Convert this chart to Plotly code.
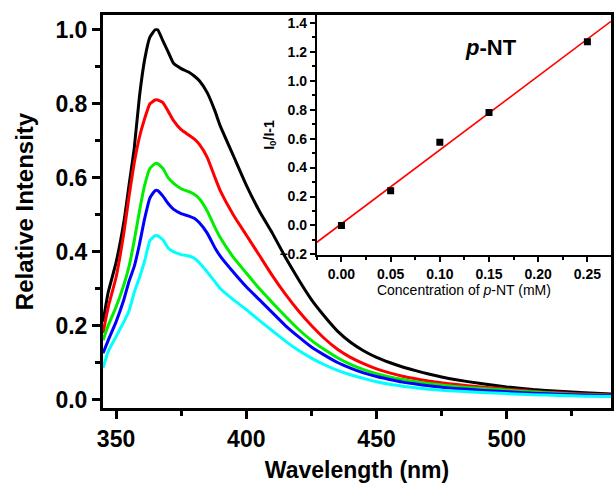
import numpy as np
import plotly.graph_objects as go

# Emission spectra (normalised), one list per quencher concentration
wavelength = [345, 347, 350, 353, 355, 357, 359, 361, 363, 365, 366, 368, 370, 372,
              375, 378, 380, 382, 385, 388, 390, 395, 400, 405, 410, 415, 420, 425,
              430, 435, 440, 445, 450, 455, 460, 465, 470, 475, 480, 490, 500, 510,
              520, 530, 540]

int_black = [0.21, 0.29, 0.37, 0.48, 0.58, 0.68, 0.82, 0.92, 0.98, 1.00, 1.00, 0.97, 0.94, 0.91,
             0.895, 0.885, 0.875, 0.862, 0.83, 0.78, 0.74, 0.66, 0.58, 0.51, 0.45, 0.385, 0.325, 0.27,
             0.225, 0.185, 0.155, 0.132, 0.114, 0.10, 0.088, 0.078, 0.069, 0.061, 0.054, 0.043, 0.034, 0.027,
             0.022, 0.018, 0.015]
int_red = [0.18, 0.25, 0.33, 0.45, 0.55, 0.64, 0.71, 0.76, 0.80, 0.81, 0.81, 0.803, 0.78, 0.755,
           0.73, 0.715, 0.705, 0.69, 0.655, 0.60, 0.565, 0.50, 0.445, 0.39, 0.335, 0.285, 0.24, 0.20,
           0.165, 0.136, 0.114, 0.097, 0.083, 0.072, 0.063, 0.056, 0.05, 0.045, 0.041, 0.034, 0.028, 0.022,
           0.018, 0.015, 0.012]
int_green = [0.16, 0.20, 0.25, 0.31, 0.36, 0.43, 0.51, 0.58, 0.625, 0.638, 0.638, 0.625, 0.60, 0.585,
             0.57, 0.562, 0.555, 0.543, 0.51, 0.465, 0.438, 0.385, 0.342, 0.30, 0.262, 0.225, 0.19, 0.16,
             0.135, 0.113, 0.095, 0.081, 0.07, 0.061, 0.054, 0.048, 0.043, 0.039, 0.035, 0.03, 0.025, 0.02,
             0.016, 0.013, 0.011]
int_blue = [0.125, 0.16, 0.21, 0.27, 0.32, 0.36, 0.42, 0.49, 0.545, 0.565, 0.565, 0.55, 0.53, 0.515,
            0.503, 0.496, 0.49, 0.478, 0.45, 0.41, 0.388, 0.345, 0.305, 0.27, 0.235, 0.20, 0.17, 0.142,
            0.12, 0.10, 0.085, 0.072, 0.062, 0.054, 0.047, 0.042, 0.037, 0.033, 0.03, 0.025, 0.021, 0.017,
            0.014, 0.012, 0.01]
int_cyan = [0.085, 0.13, 0.17, 0.21, 0.24, 0.29, 0.33, 0.375, 0.43, 0.443, 0.443, 0.432, 0.41, 0.40,
            0.392, 0.388, 0.382, 0.37, 0.345, 0.318, 0.30, 0.27, 0.243, 0.214, 0.186, 0.158, 0.133, 0.112,
            0.094, 0.079, 0.067, 0.057, 0.048, 0.041, 0.036, 0.032, 0.028, 0.025, 0.023, 0.019, 0.016, 0.013,
            0.011, 0.009, 0.008]

spectra = [int_black, int_red, int_green, int_blue, int_cyan]
spectra_colors = ["#000000", "#ff0000", "#00ee00", "#0000ff", "#00ffff"]

# Stern-Volmer data
conc_mM = [0.00, 0.05, 0.10, 0.15, 0.25]
sv_ratio = [0.0, 0.24, 0.575, 0.78, 1.27]

main_x_ticks = [350, 400, 450, 500]
main_y_ticks = [0.0, 0.2, 0.4, 0.6, 0.8, 1.0]
inset_x_ticks = [0.00, 0.05, 0.10, 0.15, 0.20, 0.25]
inset_y_ticks = [-0.2, 0.0, 0.2, 0.4, 0.6, 0.8, 1.0, 1.2, 1.4]

FONT = "Liberation Sans"
inset_xrange = [-0.025, 0.274]

fig = go.Figure()

for ys, col in zip(spectra, spectra_colors):
    fig.add_trace(go.Scatter(x=wavelength, y=ys, mode="lines",
                             line=dict(color=col, width=3, shape="spline", smoothing=0.4),
                             xaxis="x", yaxis="y", showlegend=False, hoverinfo="skip"))

# Linear fit of the quenching data, drawn across the inset x-range
slope, intercept = np.polyfit(conc_mM, sv_ratio, 1)
fit_x = np.array(inset_xrange)
fig.add_trace(go.Scatter(x=fit_x, y=slope * fit_x + intercept, mode="lines",
                         line=dict(color="#ff0000", width=1.6),
                         xaxis="x2", yaxis="y2", showlegend=False, cliponaxis=True))
fig.add_trace(go.Scatter(x=conc_mM, y=sv_ratio, mode="markers",
                         marker=dict(symbol="square", size=7, color="#000000"),
                         xaxis="x2", yaxis="y2", showlegend=False))

main_tick = dict(family=FONT, size=23, color="#000000", weight="bold")
inset_tick = dict(family=FONT, size=14, color="#000000", weight="bold")

fig.update_layout(
    width=615, height=488,
    margin=dict(l=103, r=1, t=15, b=80),
    paper_bgcolor="white", plot_bgcolor="white",
    xaxis=dict(
        domain=[0, 1], range=[345, 540], tickvals=main_x_ticks,
        ticks="outside", ticklen=8, tickwidth=3, tickcolor="black",
        minor=dict(dtick=25, tick0=325, ticks="outside", ticklen=5, tickwidth=3, tickcolor="black"),
        showline=True, linewidth=3, linecolor="black", mirror=True,
        showgrid=False, zeroline=False, tickfont=main_tick,
        title=dict(text="Wavelength (nm)", font=dict(family=FONT, size=23, color="#000000", weight="bold"),
                   standoff=12),
    ),
    yaxis=dict(
        domain=[0, 1], range=[-0.023, 1.04], tickvals=main_y_ticks, tickformat=".1f",
        ticks="outside", ticklen=8, tickwidth=3, tickcolor="black",
        minor=dict(dtick=0.1, tick0=0, ticks="outside", ticklen=5, tickwidth=3, tickcolor="black"),
        showline=True, linewidth=3, linecolor="black", mirror=True,
        showgrid=False, zeroline=False, tickfont=main_tick,
        title=dict(text="Relative Intensity", font=dict(family=FONT, size=24, color="#000000", weight="bold"),
                   standoff=16),
    ),
    xaxis2=dict(
        domain=[0.421, 1.0], anchor="y2", range=inset_xrange, tickvals=inset_x_ticks,
        tickformat=".2f",
        ticks="outside", ticklen=5, tickwidth=1.5, tickcolor="black",
        minor=dict(dtick=0.025, tick0=0, ticks="outside", ticklen=3, tickwidth=1.5, tickcolor="black"),
        showline=True, linewidth=2, linecolor="black",
        showgrid=False, zeroline=False, tickfont=inset_tick,
        title=dict(text="Concentration of <i>p</i>-NT (mM)",
                   font=dict(family=FONT, size=14, color="#000000"), standoff=4),
    ),
    yaxis2=dict(
        domain=[0.389, 1.0], anchor="x2", range=[-0.205, 1.454], tickvals=inset_y_ticks,
        tickformat=".1f",
        ticks="outside", ticklen=5, tickwidth=1.5, tickcolor="black",
        minor=dict(dtick=0.1, tick0=0, ticks="outside", ticklen=3, tickwidth=1.5, tickcolor="black"),
        showline=True, linewidth=2, linecolor="black",
        showgrid=False, zeroline=False, tickfont=inset_tick,
        title=dict(text="I<sub>0</sub>/I-1", font=dict(family=FONT, size=14, color="#000000", weight="bold"),
                   standoff=2),
    ),
    annotations=[
        dict(text="<i>p</i>-NT", x=0.152, y=1.23, xref="x2", yref="y2", showarrow=False,
             font=dict(family=FONT, size=22, color="#000000", weight="bold")),
    ],
)

fig.write_html("out.html")
